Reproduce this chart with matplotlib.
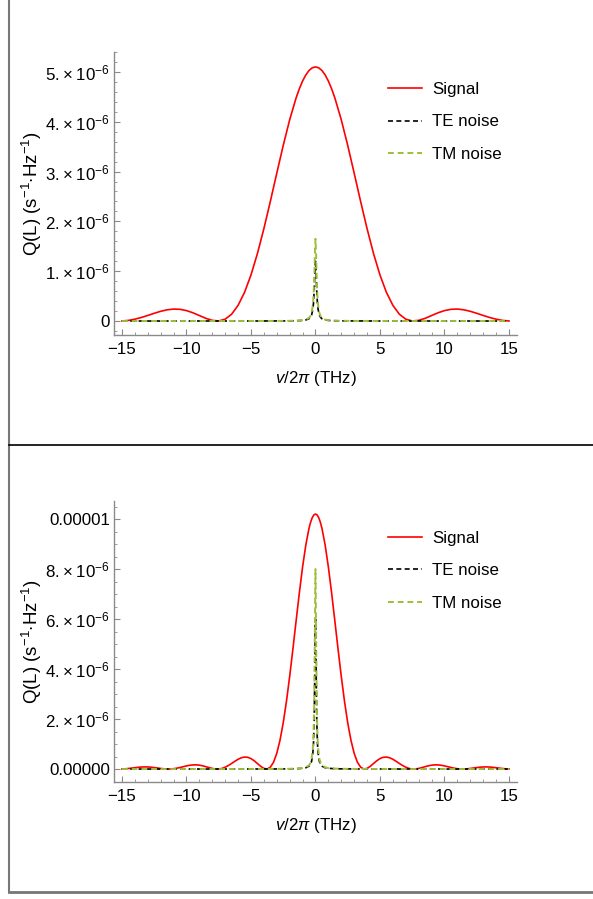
import numpy as np
import matplotlib
matplotlib.use("Agg")
import matplotlib.pyplot as plt
from matplotlib.lines import Line2D
from matplotlib.ticker import MultipleLocator

plt.rcParams["font.family"] = ["Liberation Sans", "DejaVu Sans"]
plt.rcParams["mathtext.fontset"] = "custom"
plt.rcParams["mathtext.rm"] = "Liberation Sans"
plt.rcParams["mathtext.it"] = "Liberation Sans:italic"

# ---- panel 1 (values in units of 1e-6) ----
x_sig1 = [-15, -14.5, -14, -13.5, -13, -12.5, -12, -11.5, -11, -10.5, -10,
          -9.5, -9, -8.5, -8, -7.5, -7, -6.5, -6, -5.5, -5, -4.5, -4, -3.5,
          -3, -2.5, -2, -1.5, -1.25, -1, -0.75, -0.5, -0.25, 0, 0.25, 0.5,
          0.75, 1, 1.25, 1.5, 2, 2.5, 3, 3.5, 4, 4.5, 5, 5.5, 6, 6.5, 7,
          7.5, 8, 8.5, 9, 9.5, 10, 10.5, 11, 11.5, 12, 12.5, 13, 13.5, 14,
          14.5, 15]
signal1 = [0.001, 0.012, 0.037, 0.071, 0.112, 0.155, 0.195, 0.225, 0.240,
           0.235, 0.209, 0.165, 0.110, 0.054, 0.013, 0.001, 0.037, 0.137,
           0.314, 0.575, 0.923, 1.354, 1.853, 2.399, 2.967, 3.524, 4.039,
           4.479, 4.662, 4.816, 4.939, 5.028, 5.082, 5.100, 5.082, 5.028,
           4.939, 4.816, 4.662, 4.479, 4.039, 3.524, 2.967, 2.399, 1.853,
           1.354, 0.923, 0.575, 0.314, 0.137, 0.037, 0.001, 0.013, 0.054,
           0.110, 0.165, 0.209, 0.235, 0.240, 0.225, 0.195, 0.155, 0.112,
           0.071, 0.037, 0.012, 0.001]

x_noise = [-15, -10, -5, -3, -2, -1.5, -1, -0.75, -0.5, -0.4, -0.3, -0.2,
           -0.15, -0.1, -0.05, 0, 0.05, 0.1, 0.15, 0.2, 0.3, 0.4, 0.5, 0.75,
           1, 1.5, 2, 3, 5, 10, 15]
te1 = [0.0001, 0.0001, 0.0005, 0.0013, 0.003, 0.0053, 0.012, 0.021, 0.046,
       0.071, 0.12, 0.24, 0.369, 0.6, 0.96, 1.2, 0.96, 0.6, 0.369, 0.24,
       0.12, 0.071, 0.046, 0.021, 0.012, 0.0053, 0.003, 0.0013, 0.0005,
       0.0001, 0.0001]
tm1 = [0.0001, 0.0002, 0.0007, 0.0018, 0.0041, 0.0073, 0.0163, 0.0288,
       0.0635, 0.097, 0.165, 0.33, 0.508, 0.825, 1.32, 1.65, 1.32, 0.825,
       0.508, 0.33, 0.165, 0.097, 0.0635, 0.0288, 0.0163, 0.0073, 0.0041,
       0.0018, 0.0007, 0.0002, 0.0001]

# ---- panel 2 (values in units of 1e-6) ----
x_sig2 = [-15, -14.75, -14.5, -14.25, -14, -13.75, -13.5, -13.25, -13,
          -12.75, -12.5, -12.25, -12, -11.75, -11.5, -11.25, -11, -10.75,
          -10.5, -10.25, -10, -9.75, -9.5, -9.25, -9, -8.75, -8.5, -8.25,
          -8, -7.75, -7.5, -7.25, -7, -6.75, -6.5, -6.25, -6, -5.75, -5.5,
          -5.25, -5, -4.75, -4.5, -4.25, -4, -3.75, -3.5, -3.25, -3, -2.75,
          -2.5, -2.25, -2, -1.75, -1.5, -1.25, -1, -0.75, -0.5, -0.375,
          -0.25, -0.125, 0, 0.125, 0.25, 0.375, 0.5, 0.75, 1, 1.25, 1.5,
          1.75, 2, 2.25, 2.5, 2.75, 3, 3.25, 3.5, 3.75, 4, 4.25, 4.5, 4.75,
          5, 5.25, 5.5, 5.75, 6, 6.25, 6.5, 6.75, 7, 7.25, 7.5, 7.75, 8,
          8.25, 8.5, 8.75, 9, 9.25, 9.5, 9.75, 10, 10.25, 10.5, 10.75, 11,
          11.25, 11.5, 11.75, 12, 12.25, 12.5, 12.75, 13, 13.25, 13.5,
          13.75, 14, 14.25, 14.5, 14.75, 15]
signal2 = [0.002, 0.009, 0.021, 0.037, 0.053, 0.069, 0.080, 0.085, 0.083,
           0.074, 0.059, 0.042, 0.023, 0.009, 0.001, 0.002, 0.013, 0.034,
           0.062, 0.094, 0.125, 0.150, 0.165, 0.167, 0.155, 0.129, 0.095,
           0.057, 0.024, 0.004, 0.002, 0.023, 0.074, 0.142, 0.223, 0.310,
           0.391, 0.451, 0.479, 0.470, 0.419, 0.330, 0.220, 0.109, 0.026,
           0.002, 0.073, 0.273, 0.628, 1.151, 1.847, 2.708, 3.706, 4.797,
           5.933, 7.048, 8.078, 8.958, 9.632, 9.877, 10.055, 10.164, 10.200,
           10.164, 10.055, 9.877, 9.632, 8.958, 8.078, 7.048, 5.933, 4.797,
           3.706, 2.708, 1.847, 1.151, 0.628, 0.273, 0.073, 0.002, 0.026,
           0.109, 0.220, 0.330, 0.419, 0.470, 0.479, 0.451, 0.391, 0.310,
           0.223, 0.142, 0.074, 0.023, 0.002, 0.004, 0.024, 0.057, 0.095,
           0.129, 0.155, 0.167, 0.165, 0.150, 0.125, 0.094, 0.062, 0.034,
           0.013, 0.002, 0.001, 0.009, 0.023, 0.042, 0.059, 0.074, 0.083,
           0.085, 0.080, 0.069, 0.053, 0.037, 0.021, 0.009, 0.002]
te2 = [0.0002, 0.0003, 0.0012, 0.0033, 0.0074, 0.013, 0.029, 0.052, 0.116,
       0.179, 0.31, 0.655, 1.07, 1.97, 3.98, 6.0, 3.98, 1.97, 1.07, 0.655,
       0.31, 0.179, 0.116, 0.052, 0.029, 0.013, 0.0074, 0.0033, 0.0012,
       0.0003, 0.0002]
tm2 = [0.0002, 0.0004, 0.0016, 0.0044, 0.0098, 0.0174, 0.039, 0.069, 0.154,
       0.238, 0.413, 0.873, 1.43, 2.63, 5.30, 8.0, 5.30, 2.63, 1.43, 0.873,
       0.413, 0.238, 0.154, 0.069, 0.039, 0.0174, 0.0098, 0.0044, 0.0016,
       0.0004, 0.0002]

yticks1 = [0, 1, 2, 3, 4, 5]
ylabels1 = ["0"] + ["%d.\u2009\u00d7\u200910$^{-6}$" % k for k in (1, 2, 3, 4, 5)]
yticks2 = [0, 2, 4, 6, 8, 10]
ylabels2 = (["0.00000"] + ["%d.\u2009\u00d7\u200910$^{-6}$" % k for k in (2, 4, 6, 8)]
            + ["0.00001"])

RED = "#FF0000"
GREEN = "#9DBF3A"
AXC = "#8A8A8A"
FS = 12.2


def panel(ax, xs, sig, te, tm, ylim, yticks, ylabels, yminor):
    ax.plot(xs, sig, color=RED, lw=1.2, label="Signal")
    ax.plot(x_noise, te, color="black", lw=1.2, ls=(0, (3, 2)),
            label="TE noise")
    ax.plot(x_noise, tm, color=GREEN, lw=1.4, ls=(0, (3, 2)),
            label="TM noise")
    ax.set_xlim(-15.62, 15.62)
    ax.set_ylim(*ylim)
    ax.set_xticks([-15, -10, -5, 0, 5, 10, 15])
    ax.set_xticklabels(["\u221215", "\u221210", "\u22125", "0", "5", "10", "15"])
    ax.xaxis.set_minor_locator(MultipleLocator(1))
    ax.set_yticks(yticks)
    ax.set_yticklabels(ylabels)
    ax.yaxis.set_minor_locator(MultipleLocator(yminor))
    for s in ["top", "right"]:
        ax.spines[s].set_visible(False)
    for s in ["left", "bottom"]:
        ax.spines[s].set_color(AXC)
        ax.spines[s].set_linewidth(1.0)
    ax.tick_params(which="both", direction="in", color=AXC, labelsize=FS)
    ax.tick_params(which="major", length=4.5, width=0.8, pad=3)
    ax.tick_params(which="minor", length=2.5, width=0.6)
    ax.tick_params(axis="x", pad=5)
    ax.set_xlabel(r"$v/2\pi$ (THz)", fontsize=FS, labelpad=9)
    ax.set_ylabel(r"Q(L) (s$^{-1}$$\cdot$Hz$^{-1}$)", fontsize=13.5,
                  labelpad=1)
    ax.legend(loc="upper left", bbox_to_anchor=(0.68, 0.895), frameon=False,
              fontsize=FS, handlelength=2.0, handletextpad=0.6,
              labelspacing=1.05, borderpad=0, borderaxespad=0)


fig = plt.figure(figsize=(5.93, 8.99), dpi=100)
ax1 = fig.add_axes([0.1922, 0.6274, 0.6796, 0.3148])
ax2 = fig.add_axes([0.1922, 0.1301, 0.6796, 0.3126])

panel(ax1, x_sig1, signal1, te1, tm1, (-0.28, 5.4), yticks1, ylabels1, 0.2)
panel(ax2, x_sig2, signal2, te2, tm2, (-0.52, 10.72), yticks2, ylabels2, 0.5)

# table frame lines
fig.add_artist(Line2D([9 / 593, 9 / 593], [1 - 892 / 899, 1.0],
                      color="#777777", lw=1.5))
fig.add_artist(Line2D([9 / 593, 1.0], [1 - 445 / 899, 1 - 445 / 899],
                      color="black", lw=1.2))
fig.add_artist(Line2D([9 / 593, 592 / 593], [1 - 892 / 899, 1 - 892 / 899],
                      color="#777777", lw=2))

fig.savefig("out.png", dpi=100)
